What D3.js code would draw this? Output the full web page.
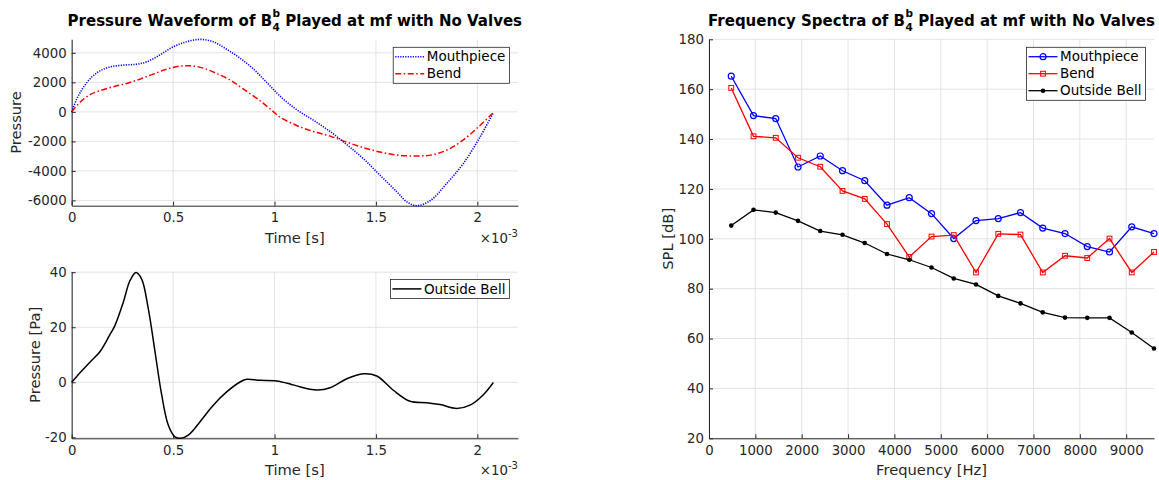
<!DOCTYPE html>
<html>
<head>
<meta charset="utf-8">
<script src="https://cdn.jsdelivr.net/npm/d3@7"></script>
<style>
  body { margin: 0; background: #fff; }
  svg { font-family: "DejaVu Sans", sans-serif; }
</style>
</head>
<body>
<svg id="chart" width="1159" height="480"></svg>
<script>
// time in ms (axis shows x 10^-3 s)
const mouthTime = [0, 0.025, 0.057, 0.10, 0.14, 0.19, 0.254, 0.32, 0.37, 0.435, 0.50, 0.567, 0.633, 0.698, 0.764, 0.83, 0.896, 0.962, 1.027, 1.109, 1.191, 1.274, 1.356, 1.438, 1.52, 1.603, 1.652, 1.701, 1.767, 1.849, 1.931, 2.013, 2.079];
const mouthPressure = [0, 875, 1650, 2380, 2780, 3050, 3165, 3230, 3390, 3860, 4400, 4750, 4910, 4750, 4240, 3640, 2900, 1990, 1070, 150, -560, -1330, -2220, -3170, -4290, -5410, -6090, -6357, -6020, -4850, -3500, -1710, -60];

const bendTime = [0, 0.041, 0.09, 0.14, 0.205, 0.271, 0.337, 0.402, 0.468, 0.534, 0.592, 0.649, 0.715, 0.781, 0.846, 0.928, 0.994, 1.027, 1.109, 1.191, 1.274, 1.356, 1.438, 1.52, 1.603, 1.701, 1.783, 1.865, 1.948, 2.013, 2.076];
const bendPressure = [0, 650, 1165, 1435, 1705, 1925, 2220, 2560, 2895, 3100, 3120, 2965, 2600, 2155, 1550, 760, 20, -364, -920, -1330, -1645, -2050, -2425, -2720, -2925, -2990, -2895, -2490, -1710, -920, -90];

const bellTime = [0, 0.041, 0.09, 0.14, 0.189, 0.213, 0.254, 0.287, 0.317, 0.345, 0.378, 0.411, 0.444, 0.476, 0.509, 0.537, 0.575, 0.633, 0.698, 0.764, 0.83, 0.863, 0.928, 1.011, 1.077, 1.109, 1.208, 1.274, 1.356, 1.438, 1.504, 1.586, 1.668, 1.75, 1.816, 1.898, 1.964, 2.03, 2.079];
const bellPressure = [0, 3.5, 7.3, 11.2, 17.4, 20.6, 29, 36.9, 39.9, 37.5, 26.6, 11, -4.7, -15.5, -19.8, -20.35, -19.2, -14.3, -8.3, -3.5, 0.1, 1.1, 0.7, 0.5, -0.6, -1.3, -2.8, -2.0, 1.3, 3.1, 2.3, -2.9, -6.9, -7.4, -8.1, -9.5, -8.3, -4.5, -0.1];

// spectra
const harmonicFreq = [480, 960, 1440, 1920, 2400, 2880, 3360, 3840, 4320, 4800, 5280, 5760, 6240, 6720, 7200, 7680, 8160, 8640, 9120, 9600];
const mouthSPL = [165.2, 149.4, 148.2, 128.8, 133.2, 127.3, 123.3, 113.5, 116.5, 110.1, 100.1, 107.3, 108.1, 110.5, 104.3, 102.1, 96.9, 94.7, 104.8, 102.1];
const bendSPL = [160.5, 141.1, 140.5, 132.5, 128.9, 119.2, 116.0, 105.9, 92.7, 100.9, 101.5, 86.5, 102.0, 101.7, 86.5, 93.2, 92.3, 100.1, 86.5, 94.7];
const bellSPL = [105.3, 111.6, 110.5, 107.2, 103.1, 101.6, 98.3, 93.9, 91.6, 88.5, 84.1, 81.7, 77.1, 74.1, 70.5, 68.4, 68.3, 68.3, 62.4, 56.0];

const timeTicks = [0, 0.5, 1, 1.5, 2];
const waveTicks = [-6000, -4000, -2000, 0, 2000, 4000];
const bellTicks = [-20, 0, 20, 40];
const freqTicks = [0, 1000, 2000, 3000, 4000, 5000, 6000, 7000, 8000, 9000];
const splTicks = [20, 40, 60, 80, 100, 120, 140, 160, 180];

const svg = d3.select("#chart");
const ink = "#262626";
const gridColor = "#e3e3e3";
const plain = d => String(d);   // matlab style: "0.5", "-2000", no separators

function panel({ left, right, top, bottom, xDomain, yDomain, xTicks, yTicks }) {
  const x = d3.scaleLinear().domain(xDomain).range([left, right]);
  const y = d3.scaleLinear().domain(yDomain).range([bottom, top]);
  const g = svg.append("g");

  // grid
  g.append("g").selectAll("line").data(xTicks).join("line")
    .attr("x1", d => x(d)).attr("x2", d => x(d))
    .attr("y1", top).attr("y2", bottom)
    .attr("stroke", gridColor);
  g.append("g").selectAll("line").data(yTicks).join("line")
    .attr("x1", left).attr("x2", right)
    .attr("y1", d => y(d)).attr("y2", d => y(d))
    .attr("stroke", gridColor);

  const xAxis = g.append("g")
    .attr("transform", `translate(0,${bottom})`)
    .call(d3.axisBottom(x).tickValues(xTicks).tickFormat(plain).tickSizeInner(-4).tickSizeOuter(0).tickPadding(7));
  const yAxis = g.append("g")
    .attr("transform", `translate(${left},0)`)
    .call(d3.axisLeft(y).tickValues(yTicks).tickFormat(plain).tickSizeInner(-4).tickSizeOuter(0).tickPadding(5));

  [xAxis, yAxis].forEach(a => {
    a.attr("font-family", null).attr("font-size", 13.3);
    a.select(".domain").attr("stroke", ink);
    a.selectAll(".tick line").attr("stroke", ink);
    a.selectAll(".tick text").attr("fill", ink);
  });

  const data = g.append("g");
  return { x, y, g, data, left, right, top, bottom };
}

function title(cx, by, pre, post) {
  const t = svg.append("g").attr("font-weight", "bold").attr("font-size", 15).attr("fill", "#000");
  const a = t.append("text").attr("x", 0).attr("y", by).text(pre);
  const sx = a.node().getComputedTextLength() + 0.5;
  const sup = t.append("text").attr("x", sx).attr("y", by - 9).attr("font-size", 10.5).text("b");
  const sub = t.append("text").attr("x", sx).attr("y", by + 4.5).attr("font-size", 10.5).text("4");
  const ws = Math.max(sup.node().getComputedTextLength(), sub.node().getComputedTextLength());
  const b = t.append("text").attr("x", sx + ws + 5.2).attr("y", by).text(post);
  const total = sx + ws + 5.2 + b.node().getComputedTextLength();
  t.attr("transform", `translate(${cx - total / 2},0)`);
}

function xLabel(p, text, scaleNote) {
  svg.append("text")
    .attr("x", (p.left + p.right) / 2).attr("y", p.bottom + 36.8)
    .attr("text-anchor", "middle").attr("font-size", 14.7).attr("fill", ink)
    .text(text);
  if (scaleNote) {
    const t = svg.append("text")
      .attr("x", p.right).attr("y", p.bottom + 36.8)
      .attr("text-anchor", "end").attr("font-size", 13.3).attr("fill", ink);
    t.append("tspan").text("\u00d710");
    t.append("tspan").attr("dy", -6).attr("font-size", 10).text("-3");
  }
}

function yLabel(p, text, bx) {
  svg.append("text")
    .attr("transform", `translate(${bx},${(p.top + p.bottom) / 2}) rotate(-90)`)
    .attr("text-anchor", "middle").attr("font-size", 14.7).attr("fill", ink)
    .text(text);
}

function legend(p, items) {
  const g = svg.append("g").attr("font-size", 13.5).attr("fill", "#000");
  const texts = items.map((it, i) => g.append("text").attr("y", 9.4 + 17 * i).attr("dy", "0.35em").attr("x", 33.5).text(it.label));
  const tw = d3.max(texts, t => t.node().getComputedTextLength());
  const w = 33.5 + tw + 4, h = 17 * items.length + 2;
  g.insert("rect", "text").attr("width", w).attr("height", h)
    .attr("fill", "#fff").attr("stroke", ink).attr("stroke-width", 0.8);
  items.forEach((it, i) => {
    const cy = 9.4 + 17 * i;
    g.append("line").attr("x1", 2).attr("x2", 31).attr("y1", cy).attr("y2", cy)
      .attr("stroke", it.color).attr("stroke-width", it.width).attr("stroke-dasharray", it.dash || null);
    if (it.marker) it.marker(g, 16.5, cy);
  });
  g.attr("transform", `translate(${p.right - 8.5 - w},${p.top + 8})`);
}

// ---------- top-left: pressure waveforms ----------
const pTop = panel({
  left: 71.7, right: 517.9, top: 39.3, bottom: 205.7,
  xDomain: [0, 2.2], yDomain: [-6357, 4916], xTicks: timeTicks, yTicks: waveTicks
});
const lineTop = d3.line().x(d => pTop.x(d[0])).y(d => pTop.y(d[1])).curve(d3.curveCatmullRom);
pTop.data.append("path")
  .attr("d", lineTop(d3.zip(bendTime, bendPressure)))
  .attr("fill", "none").attr("stroke", "#ff0000").attr("stroke-width", 1.5)
  .attr("stroke-dasharray", "6,2.5,1.5,2.5");
pTop.data.append("path")
  .attr("d", lineTop(d3.zip(mouthTime, mouthPressure)))
  .attr("fill", "none").attr("stroke", "#0000ff").attr("stroke-width", 1.6)
  .attr("stroke-dasharray", "1.2,1.3");
title((pTop.left + pTop.right) / 2, 26.2, "Pressure Waveform of B", "Played at mf with No Valves");
xLabel(pTop, "Time [s]", true);
yLabel(pTop, "Pressure", 21);
legend(pTop, [
  { label: "Mouthpiece", color: "#0000ff", width: 1.6, dash: "1.2,1.3" },
  { label: "Bend", color: "#ff0000", width: 1.5, dash: "6,2.5,1.5,2.5" }
]);

// ---------- bottom-left: outside bell ----------
const pBot = panel({
  left: 71.7, right: 517.9, top: 271.5, bottom: 438.3,
  xDomain: [0, 2.2], yDomain: [-20.35, 40.25], xTicks: timeTicks, yTicks: bellTicks
});
const lineBot = d3.line().x(d => pBot.x(d[0])).y(d => pBot.y(d[1])).curve(d3.curveCatmullRom);
pBot.data.append("path")
  .attr("d", lineBot(d3.zip(bellTime, bellPressure)))
  .attr("fill", "none").attr("stroke", "#000").attr("stroke-width", 1.5);
xLabel(pBot, "Time [s]", true);
yLabel(pBot, "Pressure [Pa]", 39.5);
legend(pBot, [{ label: "Outside Bell", color: "#000", width: 1.5 }]);

// ---------- right: spectra ----------
const pR = panel({
  left: 709, right: 1154, top: 39.3, bottom: 438.3,
  xDomain: [0, 9600], yDomain: [20, 180], xTicks: freqTicks, yTicks: splTicks
});
const lineR = d3.line().x(d => pR.x(d[0])).y(d => pR.y(d[1]));

const circle = (g, x, y, c) => g.append("circle").attr("cx", x).attr("cy", y).attr("r", 3)
  .attr("fill", "none").attr("stroke", c).attr("stroke-width", 1.2);
const square = (g, x, y, c) => g.append("rect").attr("x", x - 2.4).attr("y", y - 2.4)
  .attr("width", 4.8).attr("height", 4.8).attr("fill", "none").attr("stroke", c).attr("stroke-width", 1);
const dot = (g, x, y, c) => g.append("circle").attr("cx", x).attr("cy", y).attr("r", 2.3).attr("fill", c);

const spectra = [
  { label: "Mouthpiece", values: mouthSPL, color: "#0000ff", marker: circle },
  { label: "Bend", values: bendSPL, color: "#ff0000", marker: square },
  { label: "Outside Bell", values: bellSPL, color: "#000000", marker: dot }
];
spectra.forEach(s => {
  const pts = d3.zip(harmonicFreq, s.values);
  pR.data.append("path").attr("d", lineR(pts))
    .attr("fill", "none").attr("stroke", s.color).attr("stroke-width", 1.3);
  pts.forEach(([f, v]) => s.marker(pR.data, pR.x(f), pR.y(v), s.color));
});
title((pR.left + pR.right) / 2, 26.2, "Frequency Spectra of B", "Played at mf with No Valves");
xLabel(pR, "Frequency [Hz]", false);
yLabel(pR, "SPL [dB]", 673);
legend(pR, spectra.map(s => ({
  label: s.label, color: s.color, width: 1.3,
  marker: (g, x, y) => s.marker(g, x, y, s.color)
})));
</script>
</body>
</html>
